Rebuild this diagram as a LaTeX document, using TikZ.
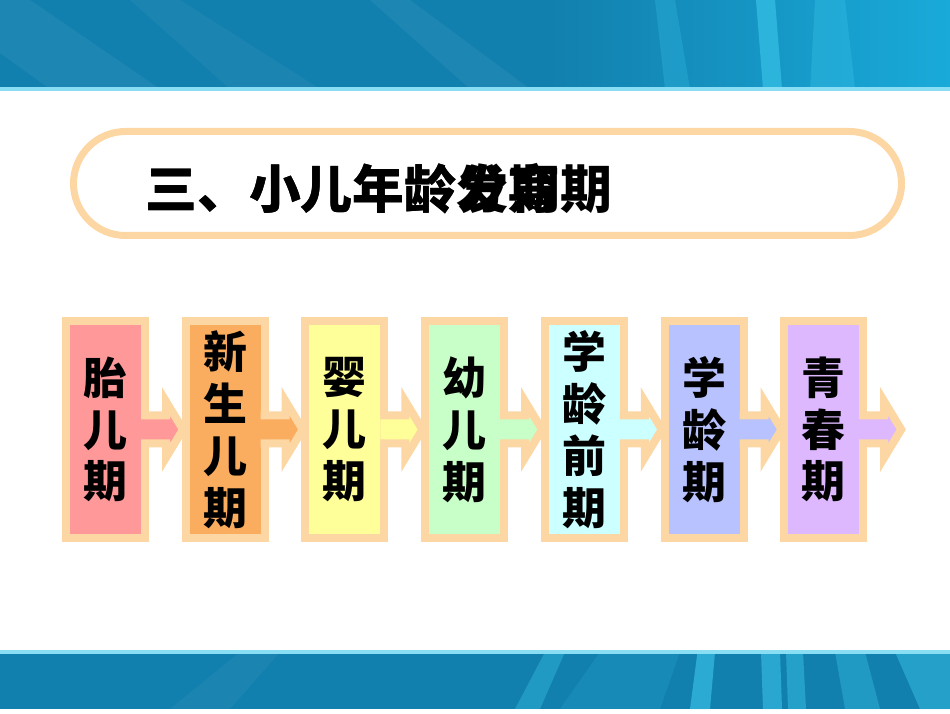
\documentclass[tikz,border=0pt]{standalone}
\usepackage{fontspec}
\newfontfamily\cjk{Noto Sans CJK SC}
\usepackage{xcolor}
\usepackage{tikz}
\usetikzlibrary{positioning}

\definecolor{peach}{HTML}{FCD6A3}
\definecolor{band}{HTML}{1280AE}
\definecolor{bandlight}{HTML}{19AAD9}
\definecolor{streak}{HTML}{3CC8EC}
\definecolor{fetal}{HTML}{FF9999}
\definecolor{newborn}{HTML}{FBAD5F}
\definecolor{infant}{HTML}{FFFF99}
\definecolor{toddler}{HTML}{C8FFC8}
\definecolor{preschool}{HTML}{CCFFFF}
\definecolor{school}{HTML}{B8C2FF}
\definecolor{youth}{HTML}{DDB8FF}

\begin{document}
\begin{tikzpicture}[every node/.style={font=\cjk\bfseries},
    stage/.style={rectangle, draw=peach, line width=1.6mm, minimum width=1.58cm, minimum height=4.34cm, outer sep=0pt, inner sep=0pt, align=center, node distance=2.394cm, font=\cjk\bfseries\fontsize{25}{29.5}\selectfont},
    flow/.style={draw=peach, line width=1.6mm}]
    \useasboundingbox (0,0) rectangle (19,14.26);

    % top band
    \fill[band] (0,12.48) rectangle (19,14.26);
    \shade[left color=band, right color=bandlight] (11,12.48) rectangle (19,14.26);
    \fill[white, opacity=0.05] (1,12.48) -- (3.2,12.48) -- (0.6,14.26) -- (0,14.26) -- (0,13.2) -- cycle;
    \fill[white, opacity=0.04] (4.6,12.48) -- (6.4,12.48) -- (3.6,14.26) -- (2.6,14.26) -- cycle;
    \fill[white, opacity=0.05] (9.4,12.48) -- (10.6,12.48) -- (8.2,14.26) -- (7.4,14.26) -- cycle;
    \fill[streak, opacity=0.25] (13.3,12.48) -- (13.8,12.48) -- (13.5,14.26) -- (13.1,14.26) -- cycle;
    \fill[streak, opacity=0.6] (15.26,12.48) -- (15.64,12.48) -- (15.5,14.26) -- (15.12,14.26) -- cycle;
    \fill[streak, opacity=0.3] (16.2,12.48) -- (17.1,12.48) -- (16.9,14.26) -- (16.3,14.26) -- cycle;
    \fill[streak!60!white] (0,12.44) rectangle (19,12.52);

    % bottom band
    \fill[band] (0,0.08) rectangle (19,1.22);
    \fill[white, opacity=0.04] (3.4,0.08) -- (4.6,0.08) -- (5.6,1.22) -- (4.8,1.22) -- cycle;
    \fill[streak, opacity=0.35] (10.3,0.08) -- (10.8,0.08) -- (11.3,1.22) -- (10.9,1.22) -- cycle;
    \fill[streak, opacity=0.15] (11.2,0.08) -- (13.2,0.08) -- (13.6,1.22) -- (12,1.22) -- cycle;
    \fill[streak, opacity=0.6] (13.8,0.08) -- (14.2,0.08) -- (14.3,1.22) -- (13.95,1.22) -- cycle;
    \fill[streak, opacity=0.55] (15.26,0.08) -- (15.64,0.08) -- (15.6,1.22) -- (15.22,1.22) -- cycle;
    \fill[streak, opacity=0.45] (15.76,0.08) -- (16.12,0.08) -- (16.06,1.22) -- (15.72,1.22) -- cycle;
    \fill[streak, opacity=0.35] (16.9,0.08) -- (17.6,0.08) -- (17.3,1.22) -- (16.7,1.22) -- cycle;
    \fill[streak, opacity=0.45] (18.4,0.08) -- (19,0.08) -- (19,1.22) -- (17.9,1.22) -- cycle;
    \fill[streak!60!white] (0,1.18) rectangle (19,1.26);

    % title
    \node[draw=peach, line width=1.4mm, rounded corners=1.04cm, minimum width=16.56cm, minimum height=2.08cm] (frame) at (9.75,10.59) {};
    \node[anchor=west, inner sep=0pt, font=\cjk\bfseries\fontsize{29.5}{34}\selectfont] (title) at (2.9,10.48) {三、小儿年龄分期};
    \node[anchor=west, inner sep=0pt, font=\cjk\bfseries\fontsize{29.5}{34}\selectfont] (titlealt) at (2.9,10.48) {三、小儿年龄发育期};

    % stages
    \node[stage, fill=fetal] (Fetal) at (2.11,5.67) {胎\\儿\\期};
    \path[flow, fill=fetal] ([shift={(-0.8mm,2.8mm)}]Fetal.east) -- ++(5mm,0) -- ++(0,2.8mm) -- ++(3.4mm,-5.6mm) -- ++(-3.4mm,-5.6mm) -- ++(0,2.8mm) -- ++(-5mm,0);
    \node[stage, fill=newborn, right of=Fetal] (Newborn) {新\\生\\儿\\期};
    \path[flow, fill=newborn] ([shift={(-0.8mm,2.8mm)}]Newborn.east) -- ++(5mm,0) -- ++(0,2.8mm) -- ++(3.4mm,-5.6mm) -- ++(-3.4mm,-5.6mm) -- ++(0,2.8mm) -- ++(-5mm,0);
    \node[stage, fill=infant, right of=Newborn] (Infant) {婴\\儿\\期};
    \path[flow, fill=infant] ([shift={(-0.8mm,2.8mm)}]Infant.east) -- ++(5mm,0) -- ++(0,2.8mm) -- ++(3.4mm,-5.6mm) -- ++(-3.4mm,-5.6mm) -- ++(0,2.8mm) -- ++(-5mm,0);
    \node[stage, fill=toddler, right of=Infant] (Toddler) {幼\\儿\\期};
    \path[flow, fill=toddler] ([shift={(-0.8mm,2.8mm)}]Toddler.east) -- ++(5mm,0) -- ++(0,2.8mm) -- ++(3.4mm,-5.6mm) -- ++(-3.4mm,-5.6mm) -- ++(0,2.8mm) -- ++(-5mm,0);
    \node[stage, fill=preschool, right of=Toddler] (Preschool) {学\\龄\\前\\期};
    \path[flow, fill=preschool] ([shift={(-0.8mm,2.8mm)}]Preschool.east) -- ++(5mm,0) -- ++(0,2.8mm) -- ++(3.4mm,-5.6mm) -- ++(-3.4mm,-5.6mm) -- ++(0,2.8mm) -- ++(-5mm,0);
    \node[stage, fill=school, right of=Preschool] (School) {学\\龄\\期};
    \path[flow, fill=school] ([shift={(-0.8mm,2.8mm)}]School.east) -- ++(5mm,0) -- ++(0,2.8mm) -- ++(3.4mm,-5.6mm) -- ++(-3.4mm,-5.6mm) -- ++(0,2.8mm) -- ++(-5mm,0);
    \node[stage, fill=youth, right of=School] (Youth) {青\\春\\期};
    \path[flow, fill=youth] ([shift={(-0.8mm,2.8mm)}]Youth.east) -- ++(5mm,0) -- ++(0,2.8mm) -- ++(3.4mm,-5.6mm) -- ++(-3.4mm,-5.6mm) -- ++(0,2.8mm) -- ++(-5mm,0);
  \end{tikzpicture}
\end{document}
